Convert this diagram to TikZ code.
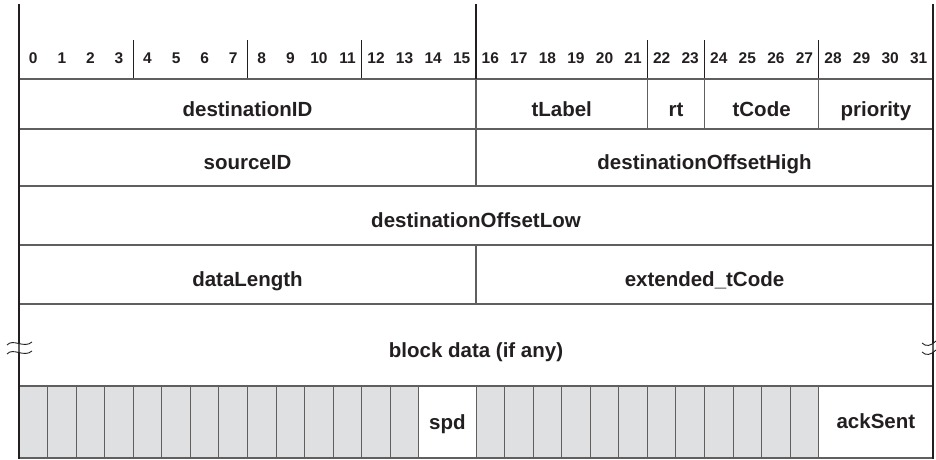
\documentclass[tikz,border=0pt]{standalone}
\usepackage{fontspec}
\setmainfont{Liberation Sans}
\usepackage{tikz}
\definecolor{linegray}{HTML}{5F5F5F}
\definecolor{cellgray}{HTML}{DFE0E2}
\definecolor{inkgray}{HTML}{231F20}
\tikzset{
fieldbox/.style={draw=linegray, line width=1.3pt},
cellbox/.style={draw=linegray, line width=1pt, fill=cellgray},
edge/.style={draw=inkgray, line width=2.6pt},
tick/.style={draw=inkgray, line width=0.9pt},
fieldtext/.style={
  font=\fontsize{20.5}{24}\selectfont\bfseries,
  text=inkgray,
  anchor=base,
  inner sep=0pt
},
bitnum/.style={
  font=\fontsize{15.5}{18}\selectfont\bfseries,
  text=inkgray,
  anchor=base,
  inner sep=0pt
},
breakmark/.style={draw=inkgray, line width=0.9pt},
}

\begin{document}
\begin{tikzpicture}[x=1pt,y=-1pt]
\useasboundingbox (0,0) rectangle (936,459);
% the fields
\foreach \a/\b/\t/\u/\name/\txt in {
  0/16/79/129/dest/destinationID,
  16/22/79/129/tlabel/tLabel,
  22/24/79/129/rt/rt,
  24/28/79/129/tcode/tCode,
  28/32/79/129/prio/priority,
  0/16/129/186/src/sourceID,
  16/32/129/186/offhigh/destinationOffsetHigh,
  0/32/186/245/offlow/destinationOffsetLow,
  0/16/245/304/datalen/dataLength,
  16/32/245/304/exttcode/{extended\_tCode},
  0/32/304/386/blockdata/{block data (if any)}}
{
  \draw[fieldbox] ({19+28.5625*\a},\t) rectangle ({19+28.5625*\b},\u);
  \node[fieldtext] (\name) at ({19+14.28125*(\a+\b)},{(\t+\u)/2+12}) {\txt};
}
% the flag row
\foreach \b in {0,...,13,16,17,...,27}
{
  \draw[cellbox] ({19+28.5625*\b},386) rectangle ({19+28.5625*(\b+1)},458);
}
\draw[fieldbox, line width=1pt] ({19+28.5625*14},386) rectangle ({19+28.5625*16},458);
\draw[fieldbox, line width=1pt] ({19+28.5625*28},386) rectangle ({19+28.5625*32},458);
\draw[fieldbox] (19,386) -- (933,386);
\draw[fieldbox] (19,458) -- (933,458);
\node[fieldtext] (spd) at ({19+28.5625*15},429) {spd};
\node[fieldtext] (acksent) at ({19+28.5625*30},428) {ackSent};
% the bit numbers
\foreach \b in {0,...,31}
{
  \node[bitnum] (bit\b) at ({19+28.5625*(\b+0.5)},63.3) {\b};
}
\foreach \b in {4,8,12,22,24,28}
{
  \draw[tick] ({19+28.5625*\b},40) -- ({19+28.5625*\b},79);
}
\draw[fieldbox] (19,79) -- (933,79);
% the outer edges
\draw[edge] (19,4) -- (19,343);
\draw[edge] (19,352) -- (19,459);
\draw[edge] (933,4) -- (933,343);
\draw[edge] (933,352) -- (933,459);
\draw[edge, line width=2.3pt] (476,4) -- (476,79);
% the break marks
\foreach \y in {343,352}
{
  \draw[breakmark] (7,\y+2) .. controls (13,\y-5) and (24,\y+6) .. (32,\y-1);
  \draw[breakmark] (922,\y) .. controls (926,\y+4) and (931,\y+3) .. (936,\y-2);
}
\end{tikzpicture}
\end{document}
